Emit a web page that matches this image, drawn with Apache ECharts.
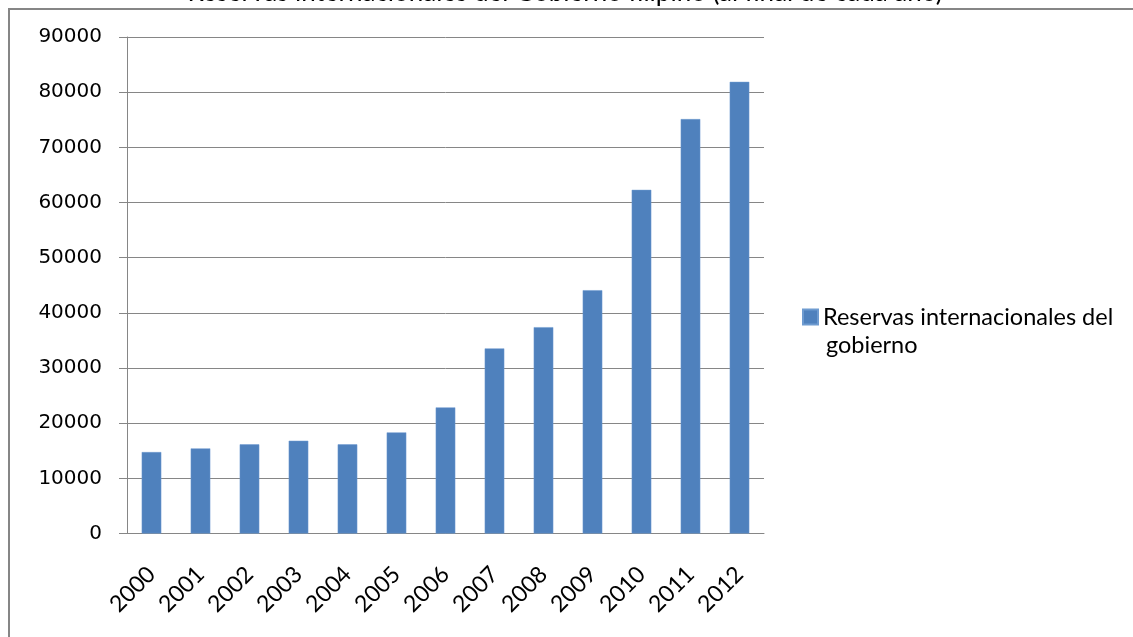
<!DOCTYPE html>
<html><head><meta charset="utf-8">
<script src="https://cdn.jsdelivr.net/npm/echarts@6/dist/echarts.min.js"></script>
<style>html,body{margin:0;padding:0;background:#fff}#c{width:1133px;height:637px}</style>
</head><body><div id="c"></div>
<script>
const titleText = 'Reservas internacionales del Gobierno filipino (al final de cada año)';
const seriesName = 'Reservas internacionales del gobierno';
const legendLines = ['Reservas internacionales del', 'gobierno'];
const years = ['2000','2001','2002','2003','2004','2005','2006','2007','2008','2009','2010','2011','2012'];
const reserves = [14760, 15430, 16160, 16810, 16160, 18330, 22860, 33550, 37400, 44100, 62290, 75120, 81870];
const yTicks = [0, 10000, 20000, 30000, 40000, 50000, 60000, 70000, 80000, 90000];

const chart = echarts.init(document.getElementById('c'));
chart.setOption({
  animation: false,
  backgroundColor: '#fff',
  graphic: [
    {type:'rect', shape:{x:9, y:9, width:1200, height:700}, style:{fill:'none', stroke:'#868686', lineWidth:2}, z:20},
    {type:'text', style:{text:titleText, x:565, y:6, align:'center', verticalAlign:'bottom', font:'26px Lato', fill:'#000'}, z:10},
    {type:'text', style:{text:legendLines[1], x:826, y:345, align:'left', verticalAlign:'middle', font:'23.5px Lato', fill:'#000'}, z:10}
  ],
  grid: {left:127, right:369, top:37, bottom:103.5, containLabel:false},
  legend: {
    orient:'vertical', left:797, top:300,
    itemWidth:15, itemHeight:15, icon:'rect', itemGap:5,
    formatter: () => legendLines[0],
    textStyle: {fontFamily:'Lato', fontSize:23.5, color:'#000'},
    data:[seriesName]
  },
  xAxis: {
    type:'category', data: years,
    axisLine:{lineStyle:{color:'#868686', width:1}},
    axisTick:{alignWithLabel:false, length:8, lineStyle:{color:'#868686'}},
    axisLabel:{rotate:45, margin:37, fontFamily:'Lato', fontSize:23, color:'#000', interval:0}
  },
  yAxis: {
    type:'value', min: yTicks[0], max: yTicks[yTicks.length-1], interval: yTicks[1]-yTicks[0],
    axisLine:{show:true, lineStyle:{color:'#868686'}},
    axisTick:{show:true, length:8, lineStyle:{color:'#868686'}},
    splitLine:{lineStyle:{color:'#868686', width:1}},
    axisLabel:{margin:25, fontFamily:'DejaVu Sans', fontSize:20, color:'#000', formatter: v => String(v)}
  },
  series: [{
    name: seriesName, type:'bar', data: reserves, barWidth:'40%',
    itemStyle:{color:'#4F81BD', borderColor:'#6e9bd0', borderWidth:0.5}
  }]
});
</script></body></html>
